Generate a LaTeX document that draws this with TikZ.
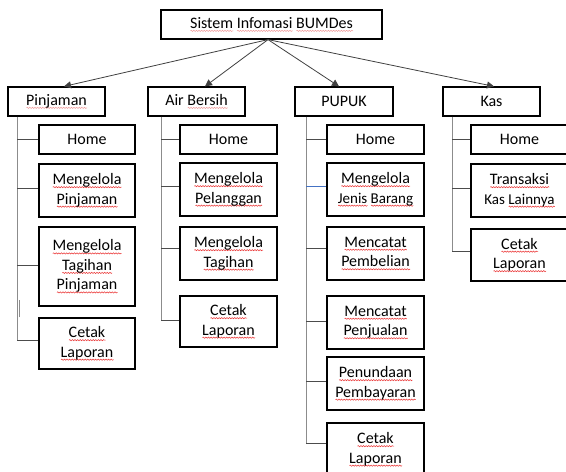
\documentclass[tikz,border=0pt]{standalone}
\usepackage{fontspec}
\setmainfont{Carlito}
\usetikzlibrary{arrows.meta,decorations.pathmorphing}
\definecolor{linkblue}{RGB}{68,114,196}
\definecolor{spellred}{RGB}{235,60,60}
\definecolor{spelllight}{RGB}{240,160,160}
\newdimen\rwdim
\newcommand\squig[2]{\leavevmode\setbox0=\hbox{#2}\rwdim=\wd0\relax\rlap{\tikz[baseline=0pt,x=1pt,y=1pt]\draw[#1,line width=0.55pt,line cap=butt,decorate,decoration={snake,amplitude=0.6pt,segment length=2.6pt}] (0pt,-2.6pt) -- (\rwdim,-2.6pt);}\box0\relax}
\newcommand\rw[1]{\squig{spellred}{#1}}
\newcommand\lw[1]{\squig{spelllight}{#1}}
\tikzset{
  box/.style={draw=black, line width=1.2pt, align=center, inner sep=0pt,
    font=\fontsize{16}{19.5}\selectfont},
  spine/.style={draw=black!45, line width=0.9pt},
  branch/.style={draw=black!70, line width=0.8pt},
  bluebranch/.style={draw=linkblue, line width=0.8pt},
  arr/.style={draw=black!75, line width=0.8pt, -{Triangle[length=7pt,width=7pt]}},
  bw/.style={minimum width=#1},
  bh/.style={minimum height=#1}
}
\begin{document}
\begin{tikzpicture}[x=1pt,y=-1pt]
\useasboundingbox (0,0) rectangle (566,472);
% top
\node[box, bw=221pt, bh=29pt] (top) at (271.5,24.5) {\lw{Sistem} \lw{Infomasi} \lw{BUMDes}};
% level 1
\node[box, bw=97pt, bh=29pt] (pin) at (56.5,101.5) {\lw{Pinjaman}};
\node[box, bw=97pt, bh=29pt] (air) at (196.5,101.5) {Air \lw{Bersih}};
\node[box, bw=98pt, bh=29pt] (pup) at (344,101.5) {PUPUK};
\node[box, bw=97pt, bh=29pt] (kas) at (491.5,101.5) {Kas};
% arrows
\coordinate (src) at ([xshift=-3.5pt]top.south);
\draw[arr] (src) -- ([xshift=7.5pt]pin.north);
\draw[arr] (src) -- ([xshift=8.5pt]air.north);
\draw[arr] (src) -- ([xshift=-5pt]pup.north);
\draw[arr] (src) -- ([xshift=2.5pt]kas.north);
% spines
\coordinate (pinS) at (17,0);
\coordinate (airS) at (161,0);
\coordinate (pupS) at (306,0);
\coordinate (kasS) at (452,0);
% Pinjaman children
\node[box, bw=96pt, bh=29pt] (p1) at (87,139.5) {Home};
\node[box, bw=96pt, bh=53pt] (p2) at (87,190.5) {\rw{Mengelola}\\\rw{Pinjaman}};
\node[box, bw=96pt, bh=79pt] (p3) at (87,266.5) {\rw{Mengelola}\\\rw{Tagihan}\\\rw{Pinjaman}};
\node[box, bw=96pt, bh=51pt] (p4) at (87,343.5) {\rw{Cetak}\\\rw{Laporan}};
% Air Bersih children
\node[box, bw=97pt, bh=29pt] (a1) at (228.5,139.5) {Home};
\node[box, bw=97pt, bh=53pt] (a2) at (228.5,189.5) {\rw{Mengelola}\\\rw{Pelanggan}};
\node[box, bw=97pt, bh=53pt] (a3) at (228.5,253.5) {\rw{Mengelola}\\\rw{Tagihan}};
\node[box, bw=97pt, bh=51pt] (a4) at (228.5,321.5) {\rw{Cetak}\\\rw{Laporan}};
% PUPUK children
\node[box, bw=97pt, bh=29pt] (u1) at (375.5,139.5) {Home};
\node[box, bw=97pt, bh=53pt] (u2) at (375.5,189.5) {\rw{Mengelola}\\{\fontsize{15}{19.5}\selectfont \rw{Jenis} \rw{Barang}}};
\node[box, bw=97pt, bh=53pt] (u3) at (375.5,253.5) {\rw{Mencatat}\\\rw{Pembelian}};
\node[box, bw=97pt, bh=53pt] (u4) at (375.5,322.5) {\rw{Mencatat}\\\rw{Penjualan}};
\node[box, bw=97pt, bh=53pt] (u5) at (375.5,383.5) {\rw{Penundaan}\\\rw{Pembayaran}};
\node[box, bw=97pt, bh=53pt] (u6) at (375.5,449.5) {\rw{Cetak}\\\rw{Laporan}};
% Kas children
\node[box, bw=97pt, bh=29pt] (k1) at (519.5,139.5) {Home};
\node[box, bw=97pt, bh=53pt] (k2) at (519.5,190.5) {\rw{Transaksi}\\{\fontsize{15}{19.5}\selectfont Kas \rw{Lainnya}}};
\node[box, bw=97pt, bh=52pt] (k3) at (519.5,255) {\rw{Cetak}\\\rw{Laporan}};
% spine lines
\draw[spine] (pin.south -| pinS) -- ([yshift=3pt]p4.west -| pinS);
\draw[spine] (air.south -| airS) -- ([yshift=1pt]a4.west -| airS);
\draw[spine] (pup.south -| pupS) -- ([yshift=6pt]u6.west -| pupS);
\draw[spine] (kas.south -| kasS) -- ([yshift=3pt]k3.west -| kasS);
% stray short line
\draw[spine] ([xshift=2pt]p4.north -| pinS) -- ([xshift=2pt,yshift=17pt]p4.north -| pinS);
% branches
\draw[branch] (p1.west -| pinS) -- (p1.west);
\draw[branch] ([yshift=2pt]p2.west -| pinS) -- ([yshift=2pt]p2.west);
\draw[branch] ([yshift=1.5pt]p3.west -| pinS) -- ([yshift=1.5pt]p3.west);
\draw[branch] ([yshift=3pt]p4.west -| pinS) -- ([yshift=3pt]p4.west);
\draw[branch] (a1.west -| airS) -- (a1.west);
\draw[branch] ([yshift=3pt]a2.west -| airS) -- ([yshift=3pt]a2.west);
\draw[branch] ([yshift=5pt]a3.west -| airS) -- ([yshift=5pt]a3.west);
\draw[branch] ([yshift=1pt]a4.west -| airS) -- ([yshift=1pt]a4.west);
\draw[branch] (u1.west -| pupS) -- (u1.west);
\draw[bluebranch] ([yshift=3pt]u2.west -| pupS) -- ([yshift=3pt]u2.west);
\draw[branch] ([yshift=5pt]u3.west -| pupS) -- ([yshift=5pt]u3.west);
\draw[branch] ([yshift=1.5pt]u4.west -| pupS) -- ([yshift=1.5pt]u4.west);
\draw[branch] ([yshift=2.5pt]u5.west -| pupS) -- ([yshift=2.5pt]u5.west);
\draw[branch] ([yshift=6pt]u6.west -| pupS) -- ([yshift=6pt]u6.west);
\draw[branch] (k1.west -| kasS) -- (k1.west);
\draw[branch] ([yshift=2.5pt]k2.west -| kasS) -- ([yshift=2.5pt]k2.west);
\draw[branch] ([yshift=4pt]k3.west -| kasS) -- ([yshift=4pt]k3.west);
\end{tikzpicture}
\end{document}
